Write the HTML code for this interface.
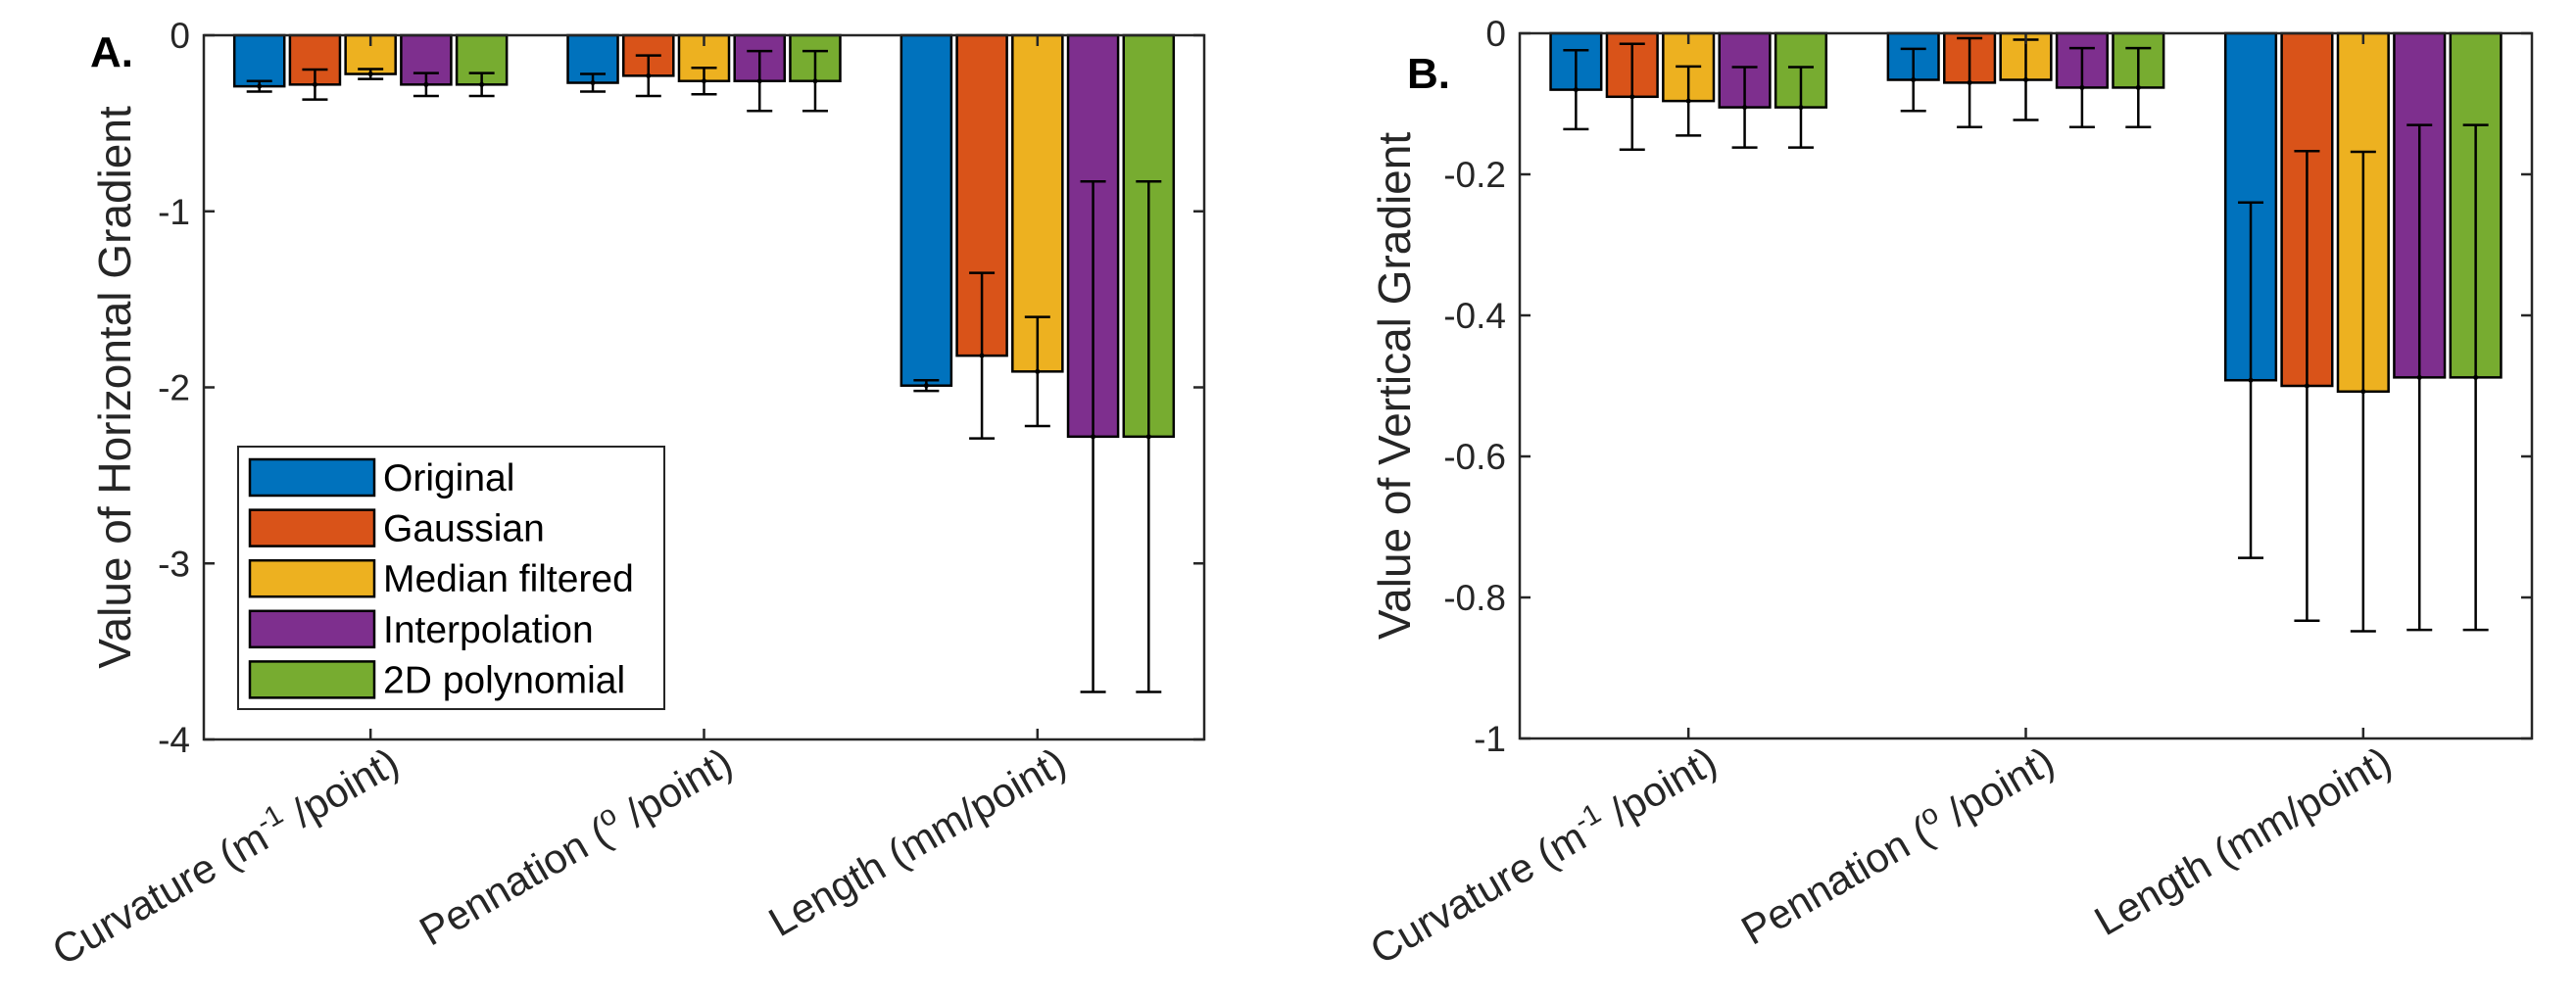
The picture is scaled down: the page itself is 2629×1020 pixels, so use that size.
<!DOCTYPE html>
<html><head><meta charset="utf-8">
<style>
html,body{margin:0;padding:0;background:#fff;}
svg{display:block;font-family:"Liberation Sans",Arial,sans-serif;}
</style></head>
<body>
<svg id="fig" width="2629" height="1020" viewBox="0 0 2629 1020"></svg>
<script>
const categories = ["Curvature (m^-1/point)", "Pennation (o/point)", "Length (mm/point)"];
const seriesNames = ["Original", "Gaussian", "Median filtered", "Interpolation", "2D polynomial"];
const seriesColors = ["#0072BD", "#D95319", "#EDB120", "#7E2F8E", "#77AC30"];
// Panel A: horizontal gradient (rows = categories, cols = series)
const hMeans = [
  [-0.29, -0.28, -0.22, -0.28, -0.28],
  [-0.27, -0.23, -0.26, -0.26, -0.26],
  [-1.99, -1.82, -1.91, -2.28, -2.28]
];
const hErrs = [
  [0.03, 0.085, 0.028, 0.065, 0.065],
  [0.05, 0.115, 0.075, 0.17, 0.17],
  [0.03, 0.47, 0.31, 1.45, 1.45]
];
const hTicks = [0, -1, -2, -3, -4];
// Panel B: vertical gradient
const vMeans = [
  [-0.080, -0.090, -0.096, -0.105, -0.105],
  [-0.066, -0.070, -0.066, -0.077, -0.077],
  [-0.492, -0.500, -0.508, -0.488, -0.488]
];
const vErrs = [
  [0.056, 0.075, 0.049, 0.057, 0.057],
  [0.044, 0.063, 0.057, 0.056, 0.056],
  [0.252, 0.333, 0.340, 0.358, 0.358]
];
const vTicks = [0, -0.2, -0.4, -0.6, -0.8, -1];
const vTickLabels = ["0", "-0.2", "-0.4", "-0.6", "-0.8", "-1"];

const NS = "http://www.w3.org/2000/svg";
const svg = document.getElementById("fig");
function mk(tag, attrs, parent) {
  const e = document.createElementNS(NS, tag);
  for (const k in attrs) e.setAttribute(k, attrs[k]);
  (parent || svg).appendChild(e);
  return e;
}

function drawPanel(p) {
  const g = mk("g", {});
  
  
  const yScale = v => p.top + (p.yMax - v) / (p.yMax - p.yMin) * (p.bottom - p.top);
  const unit = (p.right - p.left) / 3;
  const xCenter = i => p.left + unit * (i + 0.5);
  const step = unit * 0.1667, bw = unit * 0.15;

  for (let c = 0; c < categories.length; c++) {
    for (let s = 0; s < seriesNames.length; s++) {
      const m = p.means[c][s], er = p.errs[c][s];
      const cx = xCenter(c) + (s - 2) * step;
      const y0 = yScale(0), y1 = yScale(m);
      const r = mk("rect", {x: cx - bw / 2, y: Math.min(y0, y1), width: bw, height: Math.abs(y1 - y0),
        fill: seriesColors[s], stroke: "#000", "stroke-width": 2.5}, g);
      
      
      const eg = mk("g", {stroke: "#000", "stroke-width": 2.5}, g);
      
      
      const ya = yScale(m + er), yb = yScale(m - er);
      mk("line", {x1: cx, x2: cx, y1: ya, y2: yb}, eg);
      mk("line", {x1: cx - 13, x2: cx + 13, y1: ya, y2: ya}, eg);
      mk("line", {x1: cx - 13, x2: cx + 13, y1: yb, y2: yb}, eg);
      mk("circle", {cx: cx, cy: y1, r: 2.5, fill: "#000", stroke: "none"}, eg);
    }
  }
  const ax = mk("rect", {x: p.left, y: p.top, width: p.right - p.left, height: p.bottom - p.top,
    fill: "none", stroke: "#262626", "stroke-width": 2.5}, g);
  
  
  p.ticks.forEach((t, i) => {
    const y = yScale(t);
    mk("line", {x1: p.left, x2: p.left + 11, y1: y, y2: y, stroke: "#262626", "stroke-width": 2.5}, g);
    mk("line", {x1: p.right, x2: p.right - 11, y1: y, y2: y, stroke: "#262626", "stroke-width": 2.5}, g);
    const tx = mk("text", {x: p.left - 14, y: y + 13, "text-anchor": "end", "font-size": 37, fill: "#262626"}, g);
    tx.textContent = p.tickLabels[i];
    
    
  });
  for (let c = 0; c < categories.length; c++) {
    const x = xCenter(c);
    mk("line", {x1: x, x2: x, y1: p.bottom, y2: p.bottom - 11, stroke: "#262626", "stroke-width": 2.5}, g);
    mk("line", {x1: x, x2: x, y1: p.top, y2: p.top + 11, stroke: "#262626", "stroke-width": 2.5}, g);
    const ax0 = x + 32, ay0 = p.bottom + 32;
    const tx = mk("text", {x: ax0, y: ay0, "text-anchor": "end", "font-size": 42, fill: "#262626",
      transform: "rotate(-30 " + ax0 + " " + ay0 + ")"}, g);
    
    
    if (c === 0) {
      tx.innerHTML = 'Curvature (m<tspan dy="-16" font-size="29">-1</tspan><tspan dy="16"> /point)</tspan>';
    } else if (c === 1) {
      tx.innerHTML = 'Pennation (<tspan dy="-16" font-size="29">o</tspan><tspan dy="16"> /point)</tspan>';
    } else {
      tx.textContent = categories[c];
    }
  }
  const cy = (p.top + p.bottom) / 2;
  const yl = mk("text", {x: p.ylabX, y: cy, "text-anchor": "middle", "font-size": 46, fill: "#262626",
    transform: "rotate(-90 " + p.ylabX + " " + cy + ")"}, g);
  yl.textContent = p.ylabel;
  
  
  const pl = mk("text", {x: p.letterX, y: p.letterY, "font-size": 44, "font-weight": "bold", fill: "#000"}, g);
  pl.textContent = p.letter;
  
  
}

drawPanel({key: "a", left: 208, right: 1229, top: 36, bottom: 755, yMax: 0, yMin: -4,
  means: hMeans, errs: hErrs, ticks: hTicks, tickLabels: hTicks.map(String),
  ylabel: "Value of Horizontal Gradient", ylabX: 133, letter: "A.", letterX: 92, letterY: 68});
drawPanel({key: "b", left: 1551, right: 2584, top: 34, bottom: 754, yMax: 0, yMin: -1,
  means: vMeans, errs: vErrs, ticks: vTicks, tickLabels: vTickLabels,
  ylabel: "Value of Vertical Gradient", ylabX: 1439, letter: "B.", letterX: 1436, letterY: 90});

const lg = mk("g", {});


mk("rect", {x: 243, y: 456, width: 435, height: 268, fill: "#fff", stroke: "#262626", "stroke-width": 2}, lg);
seriesNames.forEach((n, i) => {
  const y = 469 + i * 51.6;
  const e = mk("g", {}, lg);
  
  
  mk("rect", {x: 255, y: y, width: 127, height: 37, fill: seriesColors[i], stroke: "#000", "stroke-width": 2.5}, e);
  const t = mk("text", {x: 391, y: y + 32, "font-size": 39, fill: "#000"}, e);
  t.textContent = n;
});
</script>
</body></html>
